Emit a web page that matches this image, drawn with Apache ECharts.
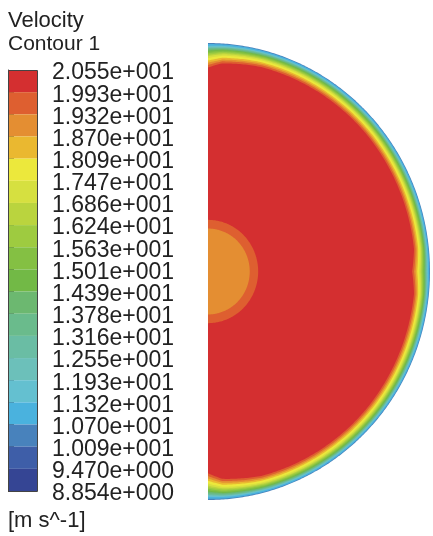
<!DOCTYPE html>
<html>
<head>
<meta charset="utf-8">
<script src="https://cdn.jsdelivr.net/npm/echarts@6/dist/echarts.min.js"></script>
<style>
html,body{margin:0;padding:0;background:#fff;}
#main{width:433px;height:536px;}
</style>
</head>
<body>
<div id="main"></div>
<script>
// Legend tick labels (top to bottom)
const legendLabels = ['2.055e+001','1.993e+001','1.932e+001','1.870e+001','1.809e+001','1.747e+001','1.686e+001','1.624e+001','1.563e+001','1.501e+001','1.439e+001','1.378e+001','1.316e+001','1.255e+001','1.193e+001','1.132e+001','1.070e+001','1.009e+001','9.470e+000','8.854e+000'];
// Colour of each of the 19 contour levels (0 = highest velocity)
const bandColors = ['#d42f30','#de5f30','#e48e32','#eab830','#ece83c','#d6e040','#bad43e','#9ecb40','#84c043','#72b946','#6cb870','#6abb8c','#6abda4','#6cc0ba','#64c0d0','#4ab2de','#4882bc','#3e5ea8','#354594'];
// Near-wall layer: level index and depth (fraction of radius, from wall) where that level's region starts
const layerLevels = [16, 15, 14, 13, 12, 11, 10, 9, 8, 7, 6, 5, 4, 3, 2, 1, 0];
const layerDepths = [0, 0.003, 0.008, 0.011, 0.013, 0.015, 0.018, 0.021, 0.024, 0.028, 0.032, 0.036, 0.041, 0.048, 0.054, 0.060, 0.067];
// Layer thickness factor versus angle (deg, 90 = top, -90 = bottom)
const profileAngles = [-90, -86, -75, -40, -6, 0, 6, 40, 75, 86, 90];
const profileScale = [1.75, 1.35, 1.1, 1.0, 1.0, 1.2, 1.0, 1.0, 1.1, 1.3, 1.6];
// Core region near the axis: level and radius (fraction of radius)
const blobLevels = [1, 2];
const blobRadius = [0.226, 0.188];

function scaleAt(deg){
  for (let i = 0; i < profileAngles.length - 1; i++) {
    if (deg >= profileAngles[i] && deg <= profileAngles[i+1]) {
      const t = (deg - profileAngles[i]) / (profileAngles[i+1] - profileAngles[i]);
      return profileScale[i] + t * (profileScale[i+1] - profileScale[i]);
    }
  }
  return 1;
}

const chart = echarts.init(document.getElementById('main'), null, {renderer:'canvas'});
const FONT = 'Liberation Sans';

const option = {
  animation: false,
  backgroundColor: '#ffffff',
  title: [
    {text:'Velocity', subtext:'Contour 1', left:8, top:10, itemGap:2, padding:0,
     textStyle:{fontSize:22, fontWeight:'normal', color:'#222', fontFamily:FONT},
     subtextStyle:{fontSize:21, color:'#222', fontFamily:FONT}},
    {text:'[m s^-1]', left:8, top:510, padding:0,
     textStyle:{fontSize:22, fontWeight:'normal', color:'#222', fontFamily:FONT}}
  ],
  grid: [
    {left:208, top:43, width:222, height:457},
    {left:8, top:70, width:29, height:421}
  ],
  xAxis: [
    {type:'value', min:0, max:1, show:false, gridIndex:0},
    {type:'value', min:0, max:1, show:false, gridIndex:1}
  ],
  yAxis: [
    {type:'value', min:-1, max:1, show:false, gridIndex:0},
    {type:'category', gridIndex:1, data:legendLabels, inverse:true, boundaryGap:false, position:'right',
     axisLine:{show:true, lineStyle:{color:'#444', width:1}},
     axisTick:{show:true, length:6, interval:0, lineStyle:{color:'#444'}},
     axisLabel:{show:true, interval:0, fontSize:23, color:'#222', margin:15, fontFamily:FONT, verticalAlign:'top', lineHeight:6},
     splitLine:{show:false}}
  ],
  series: [
    {
      type:'custom', xAxisIndex:0, yAxisIndex:0, silent:true, clip:false,
      data: layerLevels.map((lv, i) => [lv, layerDepths[i]]),
      renderItem: function(params, api){
        const lv = api.value(0), d = api.value(1);
        const pts = [];
        for (let a = 90; a >= -90; a -= 0.5) {
          const r = 1 - d * scaleAt(a);
          const rad = a * Math.PI / 180;
          pts.push(api.coord([r * Math.cos(rad), r * Math.sin(rad)]));
        }
        return {type:'polygon', shape:{points:pts}, style:{fill:bandColors[lv], stroke:null}};
      }
    },
    {
      type:'custom', xAxisIndex:0, yAxisIndex:0, silent:true, clip:false,
      data: blobLevels.map((lv, i) => [lv, blobRadius[i]]),
      renderItem: function(params, api){
        const lv = api.value(0), r = api.value(1);
        const pts = [];
        for (let a = 90; a >= -90; a -= 1) {
          const rad = a * Math.PI / 180;
          pts.push(api.coord([r * Math.cos(rad), r * Math.sin(rad)]));
        }
        return {type:'polygon', shape:{points:pts}, style:{fill:bandColors[lv], stroke:null}};
      }
    },
    {
      type:'custom', xAxisIndex:1, yAxisIndex:1, silent:true,
      data: bandColors.map((c, i) => [0, i]),
      renderItem: function(params, api){
        const i = params.dataIndex;
        const p0 = api.coord([0, i]);
        const p1 = api.coord([1, i + 1]);
        return {type:'rect', shape:{x:Math.min(p0[0],p1[0]), y:Math.min(p0[1],p1[1]), width:Math.abs(p1[0]-p0[0]), height:Math.abs(p1[1]-p0[1])},
                style:{fill:bandColors[i], stroke:null}};
      }
    },
    {
      type:'custom', xAxisIndex:1, yAxisIndex:1, silent:true,
      data: [[0, 0]],
      renderItem: function(params, api){
        const p0 = api.coord([0, 0]);
        const p1 = api.coord([1, bandColors.length]);
        return {type:'rect', shape:{x:Math.round(p0[0])+0.5, y:Math.round(Math.min(p0[1],p1[1]))+0.5, width:Math.round(Math.abs(p1[0]-p0[0])), height:Math.round(Math.abs(p1[1]-p0[1]))},
                style:{fill:null, stroke:'#444', lineWidth:1}};
      }
    }
  ]
};
chart.setOption(option);
</script>
</body>
</html>
